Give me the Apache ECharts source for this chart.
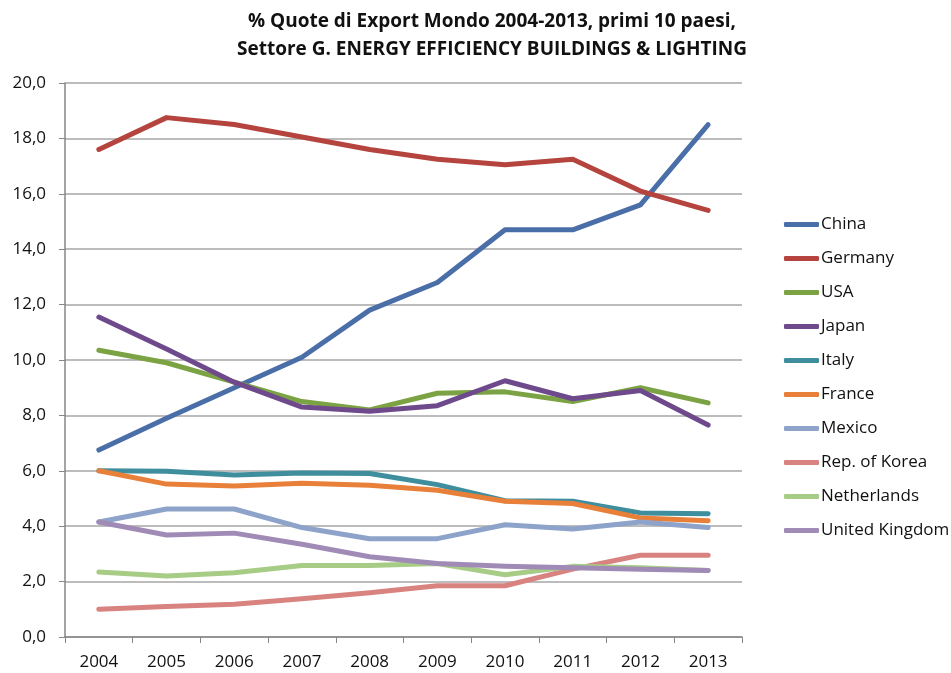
<!DOCTYPE html>
<html>
<head>
<meta charset="utf-8">
<script src="https://cdn.jsdelivr.net/npm/echarts@6/dist/echarts.min.js"></script>
<style>
  html, body { margin: 0; padding: 0; background: #fff; }
  #main { width: 951px; height: 673px; }
</style>
</head>
<body>
<div id="main"></div>
<script>
// anni e quote (%)
var years = ['2004', '2005', '2006', '2007', '2008', '2009', '2010', '2011', '2012', '2013'];
var countries = ['China', 'Germany', 'USA', 'Japan', 'Italy', 'France', 'Mexico', 'Rep. of Korea', 'Netherlands', 'United Kingdom'];
var china       = [6.75, 7.9, 9.0, 10.1, 11.8, 12.8, 14.7, 14.7, 15.6, 18.5];
var germany     = [17.6, 18.75, 18.5, 18.05, 17.6, 17.25, 17.05, 17.25, 16.1, 15.4];
var usa         = [10.35, 9.9, 9.2, 8.5, 8.2, 8.8, 8.85, 8.5, 9.0, 8.45];
var japan       = [11.55, 10.4, 9.2, 8.3, 8.15, 8.35, 9.25, 8.6, 8.9, 7.65];
var italy       = [6.0, 5.98, 5.85, 5.92, 5.9, 5.5, 4.92, 4.9, 4.48, 4.45];
var france      = [6.0, 5.52, 5.45, 5.55, 5.48, 5.3, 4.9, 4.82, 4.3, 4.2];
var mexico      = [4.15, 4.62, 4.62, 3.95, 3.55, 3.55, 4.05, 3.9, 4.15, 3.95];
var korea       = [1.0, 1.1, 1.18, 1.38, 1.6, 1.85, 1.85, 2.45, 2.95, 2.95];
var netherlands = [2.35, 2.2, 2.32, 2.58, 2.58, 2.65, 2.25, 2.55, 2.5, 2.4];
var uk          = [4.15, 3.68, 3.75, 3.35, 2.9, 2.65, 2.55, 2.5, 2.45, 2.4];

var colors = ['#4A6FA8', '#B5443F', '#7BA344', '#6E4A8C', '#3E8E9E', '#E8803A',
  '#8DA3C9', '#D8837F', '#A7CC86', '#A08BB7'];
var allData = [china, germany, usa, japan, italy, france, mexico, korea, netherlands, uk];

var chart = echarts.init(document.getElementById('main'));

var series = countries.map(function (name, i) {
  return {
    name: name,
    type: 'line',
    data: allData[i],
    symbol: 'none',
    lineStyle: { width: 5, color: colors[i], cap: 'round', join: 'round' },
    itemStyle: { color: colors[i] }
  };
});

var option = {
  animation: false,
  backgroundColor: '#fff',
  title: {
    text: '% Quote di Export Mondo 2004-2013, primi 10 paesi,\nSettore G. ENERGY EFFICIENCY BUILDINGS & LIGHTING',
    left: 487,
    top: 3,
    textAlign: 'center',
    textStyle: {
      fontFamily: 'Open Sans',
      fontWeight: 'bold',
      fontSize: 19,
      lineHeight: 28,
      color: '#111'
    }
  },
  legend: {
    orient: 'vertical',
    left: 779,
    top: 211,
    itemWidth: 35,
    itemHeight: 5,
    itemGap: 17,
    icon: 'roundRect',
    textStyle: { fontFamily: 'Open Sans', fontSize: 17, color: '#111', padding: [0, 0, 0, -3] },
    data: countries
  },
  grid: { left: 65, right: 209, top: 83, bottom: 36 },
  xAxis: {
    type: 'category',
    data: years,
    boundaryGap: true,
    axisLine: { lineStyle: { color: '#868686', width: 1.5 } },
    axisTick: { show: true, length: 6, lineStyle: { color: '#868686' } },
    axisLabel: { fontFamily: 'Open Sans', fontSize: 17, color: '#111', margin: 17 }
  },
  yAxis: {
    type: 'value',
    min: 0,
    max: 20,
    interval: 2,
    axisLine: { show: true, lineStyle: { color: '#868686', width: 1.5 } },
    axisTick: { show: true, length: 6, lineStyle: { color: '#868686' } },
    splitLine: { lineStyle: { color: '#a6a6a6', width: 1.5 } },
    axisLabel: {
      fontFamily: 'Open Sans',
      fontSize: 17,
      color: '#111',
      margin: 19,
      formatter: function (v) { return v.toFixed(1).replace('.', ','); }
    }
  },
  series: series
};

chart.setOption(option);
</script>
</body>
</html>
